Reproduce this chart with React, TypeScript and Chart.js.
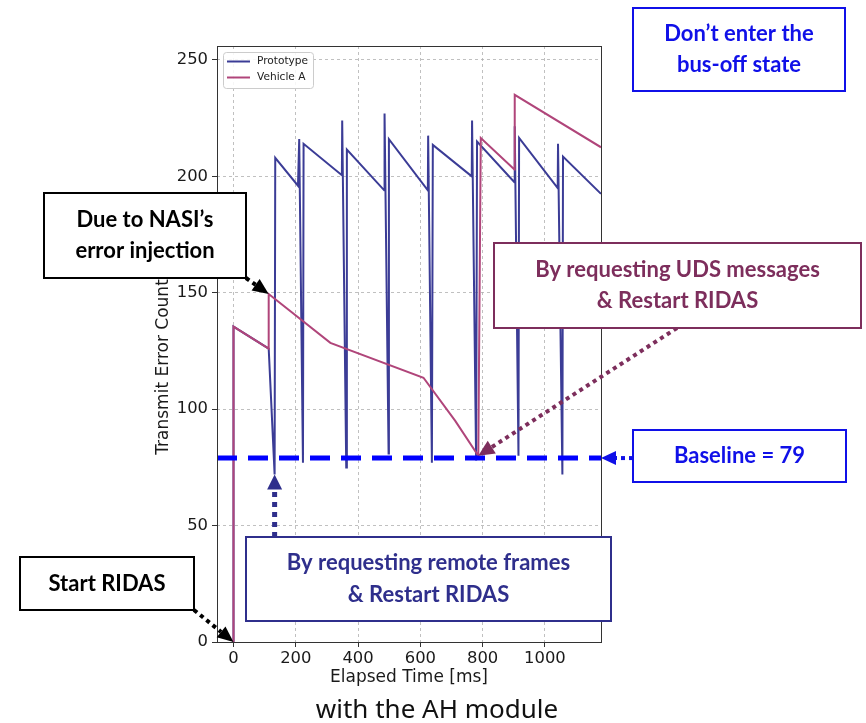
import React, { useEffect, useRef } from 'react';
import { Chart, registerables } from 'chart.js';

Chart.register(...registerables);

// Transmit error counter traces (elapsed time in ms, counter value)
const protoTime = [0, 0, 113, 132, 134, 207, 211, 223, 225, 348, 349, 362, 364, 484, 485, 498, 499, 624, 625, 637, 640, 765, 766, 779, 782, 902, 903, 915, 917, 1041, 1042, 1056, 1058, 1180];
const protoCount = [0, 135.5, 126, 72, 208, 196, 216, 77, 214, 200.5, 224, 75, 211.5, 194, 227, 81, 216, 194, 217.5, 77, 213.5, 200, 224, 78, 215, 197.5, 221.5, 80, 216.5, 195, 214, 72, 208.5, 192.5];

const vehicleTime = [0, 0, 113, 113, 311, 610, 712, 786, 794, 902, 903, 1180];
const vehicleCount = [0, 135.5, 126, 149.5, 128.5, 113.5, 95, 80, 216.5, 203, 235, 212.5];

const seriesNames = ['Prototype', 'Vehicle A'];
const xTicks = [0, 200, 400, 600, 800, 1000];
const yTicks = [0, 50, 100, 150, 200, 250];
const BASELINE = 79;

const X_MIN = -53;
const X_MAX = 1180;
const Y_MIN = 0;
const Y_MAX = 256;

const X_TITLE = 'Elapsed Time [ms]';
const Y_TITLE = 'Transmit Error Count';
const CAPTION = 'with the AH module';

const PROTO_COLOR = '#3b3c96';
const VEHICLE_COLOR = '#b0457a';

const toPoints = (xs: number[], ys: number[]) => xs.map((x, i) => ({ x, y: ys[i] }));

type Callout = { lines: string[]; x: number; y: number; w: number; h: number; color: string };

const callouts: Callout[] = [
  { lines: ['Don\u2019t enter the', 'bus-off state'], x: 633, y: 8, w: 212, h: 83, color: '#1010e8' },
  { lines: ['Due to NASI\u2019s', 'error injection'], x: 44, y: 193, w: 202, h: 85, color: '#000000' },
  { lines: ['By requesting UDS messages', '& Restart RIDAS'], x: 494, y: 243, w: 367, h: 85, color: '#7d2e5c' },
  { lines: [`Baseline = ${BASELINE}`], x: 633, y: 430, w: 213, h: 52, color: '#1010e8' },
  { lines: ['By requesting remote frames', '& Restart RIDAS'], x: 246, y: 537, w: 365, h: 84, color: '#2f2f8c' },
  { lines: ['Start RIDAS'], x: 20, y: 557, w: 174, h: 53, color: '#000000' },
];

function drawArrow(
  ctx: CanvasRenderingContext2D,
  x0: number, y0: number, x1: number, y1: number,
  color: string, width: number, head: number, headW: number,
) {
  const dx = x1 - x0;
  const dy = y1 - y0;
  const len = Math.hypot(dx, dy);
  const ux = dx / len;
  const uy = dy / len;
  const bx = x1 - ux * head;
  const by = y1 - uy * head;
  ctx.save();
  ctx.strokeStyle = color;
  ctx.lineWidth = width;
  ctx.setLineDash([width, width]);
  ctx.lineCap = 'butt';
  ctx.beginPath();
  ctx.moveTo(x0, y0);
  ctx.lineTo(bx, by);
  ctx.stroke();
  ctx.setLineDash([]);
  ctx.fillStyle = color;
  ctx.beginPath();
  ctx.moveTo(x1, y1);
  ctx.lineTo(bx - (uy * headW) / 2, by + (ux * headW) / 2);
  ctx.lineTo(bx + (uy * headW) / 2, by - (ux * headW) / 2);
  ctx.closePath();
  ctx.fill();
  ctx.restore();
}

const overlayPlugin = {
  id: 'overlay',
  afterDatasetsDraw(chart: any) {
    const { ctx, chartArea: a, scales } = chart;
    const ys = scales.y;

    // baseline
    const by = ys.getPixelForValue(BASELINE);
    ctx.save();
    ctx.strokeStyle = '#0000ff';
    ctx.lineWidth = 5;
    ctx.setLineDash([20, 11]);
    ctx.beginPath();
    ctx.moveTo(a.left, by);
    ctx.lineTo(a.right, by);
    ctx.stroke();
    ctx.restore();

    // axes frame
    ctx.save();
    ctx.strokeStyle = '#333333';
    ctx.lineWidth = 1;
    ctx.strokeRect(Math.round(a.left) + 0.5, Math.round(a.top) + 0.5, Math.round(a.right - a.left), Math.round(a.bottom - a.top));
    ctx.restore();

    // legend
    ctx.save();
    const lx = a.left + 6;
    const ly = a.top + 6;
    const lw = 90;
    const lh = 36;
    ctx.fillStyle = 'rgba(255,255,255,0.85)';
    ctx.strokeStyle = '#cccccc';
    ctx.lineWidth = 1;
    ctx.beginPath();
    ctx.roundRect(lx + 0.5, ly + 0.5, lw, lh, 3);
    ctx.fill();
    ctx.stroke();
    const colors = [PROTO_COLOR, VEHICLE_COLOR];
    ctx.font = '10.6px "DejaVu Sans"';
    ctx.textBaseline = 'middle';
    ctx.textAlign = 'left';
    seriesNames.forEach((name, i) => {
      const ry = ly + 9.5 + i * 16;
      ctx.strokeStyle = colors[i];
      ctx.lineWidth = 2;
      ctx.beginPath();
      ctx.moveTo(lx + 4, ry);
      ctx.lineTo(lx + 27, ry);
      ctx.stroke();
      ctx.fillStyle = '#222222';
      ctx.fillText(name, lx + 34, ry);
    });
    ctx.restore();

    // y axis title
    ctx.save();
    ctx.translate(164, 367);
    ctx.rotate(-Math.PI / 2);
    ctx.font = '17px "DejaVu Sans"';
    ctx.fillStyle = '#1a1a1a';
    ctx.textAlign = 'center';
    ctx.textBaseline = 'middle';
    ctx.fillText(Y_TITLE, 0, 0);
    ctx.restore();
  },
  afterDraw(chart: any) {
    const { ctx, chartArea: a, scales } = chart;
    const xs = scales.x;
    const ys = scales.y;
    const px = (v: number) => xs.getPixelForValue(v);
    const py = (v: number) => ys.getPixelForValue(v);

    // arrows
    drawArrow(ctx, 246, 278, px(vehicleTime[3]), py(vehicleCount[3]), '#000000', 4, 16, 14);
    drawArrow(ctx, 194, 610, px(vehicleTime[0]), py(vehicleCount[0]), '#000000', 4, 16, 14);
    const rx = px(protoTime[3]);
    drawArrow(ctx, rx, 537, rx, py(protoCount[3]), '#2f2f8c', 5, 15, 15);
    drawArrow(ctx, 677, 328, px(vehicleTime[7]), py(vehicleCount[7]), '#7d2e5c', 4, 16, 15);
    drawArrow(ctx, 633, py(BASELINE), a.right, py(BASELINE), '#1010e8', 4, 15, 14);

    // callout boxes
    ctx.save();
    callouts.forEach((c) => {
      ctx.fillStyle = '#ffffff';
      ctx.fillRect(c.x, c.y, c.w, c.h);
      ctx.strokeStyle = c.color;
      ctx.lineWidth = 2;
      ctx.strokeRect(c.x, c.y, c.w, c.h);
      ctx.fillStyle = c.color;
      ctx.font = 'bold 22px Lato';
      ctx.textAlign = 'center';
      ctx.textBaseline = 'middle';
      const cx = c.x + c.w / 2;
      const cy = c.y + c.h / 2;
      const step = 31.5;
      const n = c.lines.length;
      c.lines.forEach((t, i) => {
        ctx.fillText(t, cx, cy + (i - (n - 1) / 2) * step);
      });
    });
    ctx.restore();

    // caption
    ctx.save();
    ctx.fillStyle = '#111111';
    ctx.font = '26px "Noto Sans"';
    ctx.textAlign = 'center';
    ctx.textBaseline = 'middle';
    ctx.fillText(CAPTION, 437, 711);
    ctx.restore();
  },
};

export default function App() {
  const ref = useRef<HTMLCanvasElement>(null);

  useEffect(() => {
    const canvas = ref.current;
    if (!canvas) return;
    const tickFont = { family: 'DejaVu Sans', size: 16.4 };
    const titleFont = { family: 'DejaVu Sans', size: 17 };
    const chart = new Chart(canvas, {
      type: 'line',
      data: {
        datasets: [
          {
            label: seriesNames[0],
            data: toPoints(protoTime, protoCount),
            borderColor: PROTO_COLOR,
            borderWidth: 2,
            pointRadius: 0,
            tension: 0,
            fill: false,
            order: 1,
          },
          {
            label: seriesNames[1],
            data: toPoints(vehicleTime, vehicleCount),
            borderColor: VEHICLE_COLOR,
            borderWidth: 2,
            pointRadius: 0,
            tension: 0,
            fill: false,
            order: 0,
          },
        ],
      },
      options: {
        animation: false,
        responsive: false,
        devicePixelRatio: 1,
        layout: { padding: { left: 0, top: 46, right: 265, bottom: 0 } },
        plugins: { legend: { display: false }, tooltip: { enabled: false } },
        scales: {
          x: {
            type: 'linear',
            min: X_MIN,
            max: X_MAX,
            afterBuildTicks: (s: any) => { s.ticks = xTicks.map((v) => ({ value: v })); },
            afterFit: (s: any) => { s.height = 81; },
            ticks: { font: tickFont, color: '#1a1a1a', padding: 2, maxRotation: 0, autoSkip: false, callback: (v: any) => String(v) },
            grid: { color: '#b0b0b0', lineWidth: 0.8, tickLength: 5, tickColor: '#333333', tickWidth: 1, tickBorderDash: [] },
            border: { display: false, dash: [3, 3] },
            title: { display: true, text: X_TITLE, font: titleFont, color: '#1a1a1a', padding: { top: 0, bottom: 35 } },
          },
          y: {
            type: 'linear',
            min: Y_MIN,
            max: Y_MAX,
            afterBuildTicks: (s: any) => { s.ticks = yTicks.map((v) => ({ value: v })); },
            afterFit: (s: any) => { s.width = 217; },
            ticks: { font: tickFont, color: '#1a1a1a', padding: 4, callback: (v: any) => String(v) },
            grid: { color: '#b0b0b0', lineWidth: 0.8, tickLength: 5, tickColor: '#333333', tickWidth: 1, tickBorderDash: [] },
            border: { display: false, dash: [3, 3] },
            title: { display: false },
          },
        },
      },
      plugins: [overlayPlugin],
    } as any);
    return () => chart.destroy();
  }, []);

  return (
    <div style={{ position: 'fixed', left: 0, top: 0, width: 866, height: 723, background: '#ffffff' }}>
      <canvas ref={ref} width={866} height={723} style={{ display: 'block', width: 866, height: 723 }} />
    </div>
  );
}
